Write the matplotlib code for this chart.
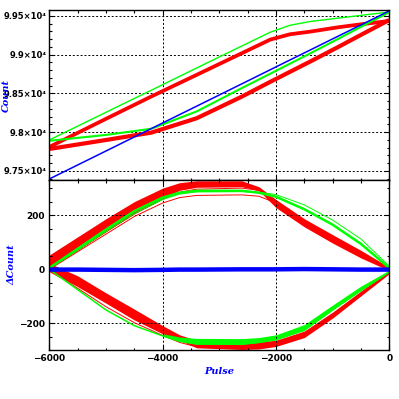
import matplotlib
matplotlib.use('Agg')
import matplotlib.pyplot as plt
from matplotlib.ticker import MultipleLocator, FuncFormatter

# ---- top panel: Count vs Pulse (values read at these pulse knots)
XT = [-6000, -5000, -4200, -3400, -2600, -2100, -1750, -1400, -900, -450, 0]
G_UP_T = [97900, 98257, 98542, 98828, 99113, 99290, 99380, 99428, 99472, 99512, 99550]
R_UP_T = [97810, 98173, 98461, 98740, 99020, 99195, 99264, 99297, 99354, 99397, 99435]
R_LO_T = [97784, 97900, 97995, 98180, 98460, 98650, 98780, 98910, 99100, 99275, 99448]
G_LO_T = [97890, 97965, 98045, 98268, 98570, 98755, 98885, 99015, 99205, 99378, 99548]
B_T = [97397, 97758, 98047, 98336, 98625, 98806, 98933, 99059, 99240, 99402, 99565]

# ---- bottom panel: dCount vs Pulse
XB = [-6000, -5500, -5000, -4500, -4000, -3700, -3400, -2600, -2300, -2000, -1500, -1000, -500, 0]
# upper branch
R_UP_OUT = [53, 120, 187, 250, 300, 320, 327, 327, 305, 258, 187, 128, 70, 8]
R_UP_IN = [5, 72, 140, 205, 262, 292, 303, 305, 290, 228, 157, 97, 42, -5]
R_UP_MID = [2, 70, 138, 205, 258, 285, 296, 300, 292, 250, 175, 112, 55, 0]
R_UP_THIN = [0, 65, 130, 195, 245, 265, 273, 275, 270, 245, 172, 110, 52, 0]
G_UP = [5, 76, 147, 215, 265, 283, 290, 290, 283, 268, 222, 165, 94, 5]
G_UP2 = [3, 70, 140, 206, 258, 278, 286, 287, 285, 276, 238, 182, 112, 12]
# lower branch
R_LO_IN = [22, -24, -87, -147, -208, -242, -262, -268, -268, -262, -228, -158, -80, -5]
R_LO_OUT = [-9, -64, -125, -187, -238, -262, -290, -296, -294, -285, -252, -180, -98, -16]
R_LO_THIN = [-5, -70, -138, -197, -244, -270, -286, -290, -288, -280, -248, -176, -95, -14]
G_LO = [0, -75, -150, -208, -246, -266, -276, -277, -270, -260, -225, -150, -78, -10]
G_LO_IN = [-238, -250, -255, -256, -252, -242, -204, -132, -62, -3]  # from -4000 on
B_LO = [-1, -1, -2, -3, -2, -1, -1, 0, 0, 0, 1, 0, -1, -1]

RED, GREEN, BLUE = '#ff0000', '#00ff00', '#0000ff'

fig = plt.figure(figsize=(3.99, 3.99), dpi=100)
ax1 = fig.add_axes([0.1236, 0.5489, 0.852, 0.4261])
ax2 = fig.add_axes([0.1236, 0.1228, 0.852, 0.4261])

# top panel
ax1.plot(XT, R_LO_T, color=RED, lw=3.0, solid_capstyle='butt')
ax1.plot(XT, R_UP_T, color=RED, lw=2.7, solid_capstyle='butt')
ax1.plot(XT, G_UP_T, color=GREEN, lw=1.0)
ax1.plot(XT, G_LO_T, color=GREEN, lw=1.5)
ax1.plot(XT, B_T, color=BLUE, lw=1.1)
ax1.set_ylim(97384, 99577)

# bottom panel
ax2.fill_between(XB, R_UP_IN, R_UP_OUT, color=RED, lw=0)
ax2.plot(XB, R_UP_MID, color=RED, lw=0.7)
ax2.plot(XB, R_UP_THIN, color=RED, lw=0.7)
ax2.fill_between(XB, R_LO_OUT, R_LO_IN, color=RED, lw=0)
ax2.plot(XB, R_LO_THIN, color=RED, lw=0.7)
ax2.plot(XB, G_UP2, color=GREEN, lw=0.7)
ax2.plot(XB, G_UP, color=GREEN, lw=1.8)
ax2.fill_between(XB[4:], G_LO[4:], G_LO_IN, color=GREEN, lw=0)
ax2.plot(XB, G_LO, color=GREEN, lw=1.1)
ax2.plot(XB, B_LO, color=BLUE, lw=3.2)
ax2.set_ylim(-298, 330)

for ax in (ax1, ax2):
    ax.set_xlim(-6000, 0)
    ax.xaxis.set_major_locator(MultipleLocator(2000))
    ax.xaxis.set_minor_locator(MultipleLocator(500))
    ax.tick_params(which='both', direction='in', top=True, right=True,
                   width=0.8, labelsize=6.5, pad=3)
    ax.tick_params(which='major', length=3.6)
    ax.tick_params(which='minor', length=1.8)
    ax.grid(True, which='major', color='black', linestyle=(0, (2, 2)), linewidth=0.7)
    for s in ax.spines.values():
        s.set_linewidth(1.0)

ax1.yaxis.set_major_locator(MultipleLocator(500))
ax1.yaxis.set_minor_locator(MultipleLocator(100))
ax1.yaxis.set_major_formatter(FuncFormatter(lambda v, p: '%g\u00d710\u2074' % (v / 1e4)))
ax1.tick_params(labelbottom=False, labelsize=6, pad=2)

ax2.yaxis.set_major_locator(MultipleLocator(200))
ax2.yaxis.set_minor_locator(MultipleLocator(50))

for ax in (ax1, ax2):
    for lab in ax.get_xticklabels() + ax.get_yticklabels():
        lab.set_fontweight('bold')

lab_kw = dict(color=BLUE, fontsize=7, fontstyle='italic', fontweight='bold', family='DejaVu Serif')
fig.text(6 / 399, 1 - 95 / 399, 'Count', rotation=90, ha='center', va='center', **lab_kw)
fig.text(11.5 / 399, 1 - 265 / 399, '\u0394Count', rotation=90, ha='center', va='center', **lab_kw)
fig.text(219 / 399, 1 - 371 / 399, 'Pulse', ha='center', va='center', **lab_kw)

fig.savefig('out.png', dpi=100)
